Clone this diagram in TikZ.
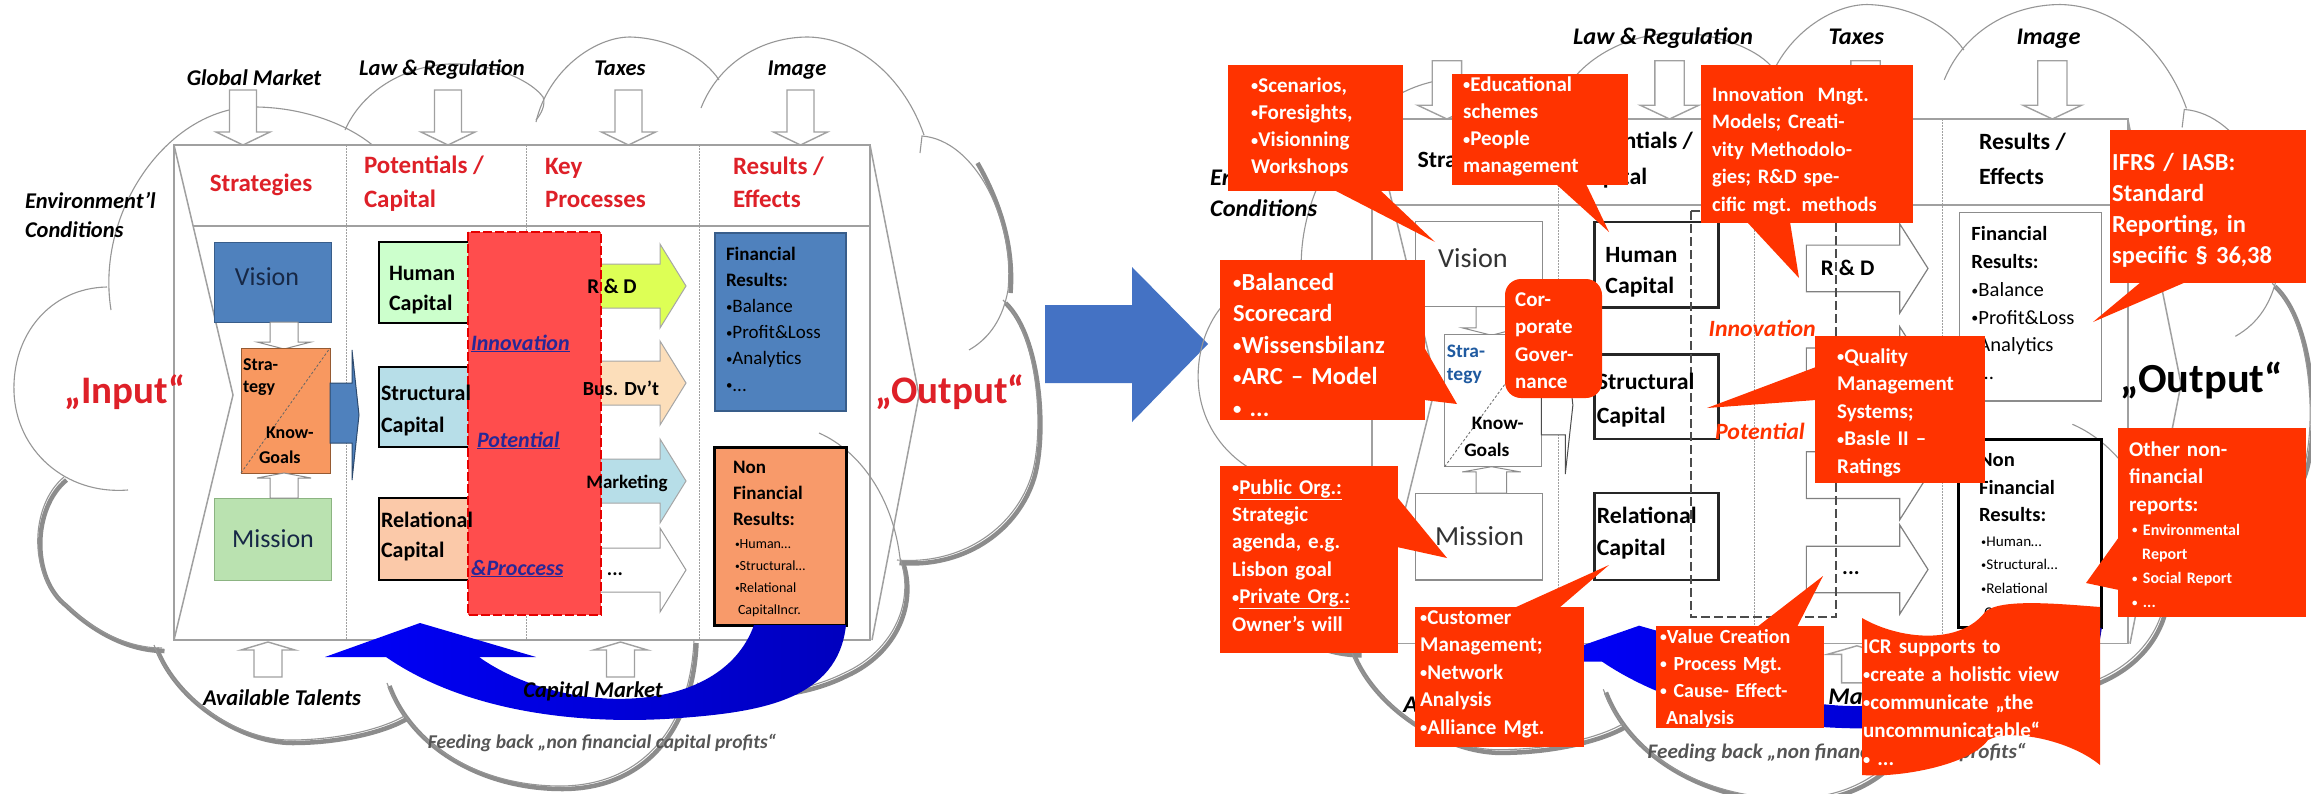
\documentclass[tikz,border=0pt]{standalone}
\usepackage{fontspec}
\usepackage{graphicx}
\setmainfont{Carlito}
\definecolor{cloudgray}{RGB}{150,150,150}
\definecolor{shadowgray}{RGB}{140,140,140}
\definecolor{envgray}{RGB}{160,160,160}
\definecolor{hdrred}{RGB}{222,32,40}
\definecolor{visblue}{RGB}{79,129,189}
\definecolor{visblueD}{RGB}{56,93,138}
\definecolor{vistxt}{RGB}{23,40,70}
\definecolor{stratorange}{RGB}{248,152,96}
\definecolor{stratD}{RGB}{150,90,50}
\definecolor{misgreen}{RGB}{186,226,176}
\definecolor{misD}{RGB}{140,180,130}
\definecolor{humgreen}{RGB}{204,255,204}
\definecolor{structblue}{RGB}{183,222,232}
\definecolor{relpeach}{RGB}{251,201,169}
\definecolor{rdyellow}{RGB}{221,255,85}
\definecolor{buspeach}{RGB}{252,222,186}
\definecolor{redfill}{RGB}{255,77,77}
\definecolor{redD}{RGB}{230,0,0}
\definecolor{innoblue}{RGB}{40,40,150}
\definecolor{nonfinorange}{RGB}{248,154,106}
\definecolor{fbblue}{RGB}{0,0,250}
\definecolor{fbblueD}{RGB}{0,0,190}
\definecolor{bigblue}{RGB}{68,114,196}
\definecolor{callred}{RGB}{255,51,0}
\definecolor{stratblue}{RGB}{31,90,160}
\definecolor{feedgray}{RGB}{85,85,85}
\newcommand\myfs[2]{\fontsize{#1}{#2}\selectfont}
\newcommand\bul{\raisebox{0.07em}{\scalebox{0.68}{•}}}
\newif\ifleftpanel \leftpaneltrue
\newcommand\innofmt[1]{\underline{#1}}
\tikzset{
  tx/.style={inner sep=0pt, outer sep=0pt},
  pcloud/.style={draw=cloudgray, line width=1.1pt},
  pshadow/.style={draw=shadowgray, line width=4.5pt},
  penv/.style={fill=white, draw=envgray, line width=1.4pt},
  ptable/.style={draw=envgray, line width=1.5pt},
  pdiv/.style={draw=envgray, line width=1pt, dash pattern=on 1.5pt off 1.5pt},
  pdiag/.style={draw=black!60, line width=0.8pt, dash pattern=on 2.5pt off 2pt},
  phdr/.style={text=hdrred, font=\myfs{25}{30}\bfseries},
  pvis/.style={fill=visblue, draw=visblueD, line width=1pt},
  pvistxt/.style={text=vistxt, font=\myfs{26}{30}},
  pstrat/.style={fill=stratorange, draw=stratD, line width=1pt},
  pstrattxt/.style={text=black},
  pmis/.style={fill=misgreen, draw=misD, line width=1pt},
  pvsarr/.style={fill=white, draw=black!45, line width=1pt},
  pblarr/.style={fill=visblue, draw=visblueD!80!black, line width=1pt},
  phum/.style={fill=humgreen, draw=black, line width=2pt},
  pstruct/.style={fill=structblue, draw=black, line width=2pt},
  prel/.style={fill=relpeach, draw=black, line width=2pt},
  prd/.style={fill=rdyellow, draw=black!35, line width=1pt},
  pbus/.style={fill=buspeach, draw=black!35, line width=1pt},
  pmkt/.style={fill=structblue, draw=black!35, line width=1pt},
  pdots/.style={fill=white, draw=black!40, line width=1pt},
  pred/.style={fill=redfill, draw=redD, line width=2pt, dash pattern=on 9pt off 3pt},
  pinno/.style={text=innoblue, font=\myfs{22}{26}\bfseries\itshape},
  pfin/.style={fill=visblue, draw=visblueD, line width=1.2pt},
  pnonfin/.style={fill=nonfinorange, draw=black, line width=3pt},
  pio/.style={text=hdrred, font=\myfs{39}{44}\bfseries},
  pfeed/.style={left color=fbblue, right color=fbblueD},
  penvtxt/.style={text=black, font=\myfs{22.5}{26}\bfseries\itshape},
  pfeedtxt/.style={text=feedgray, font=\myfs{19.5}{22}\bfseries\itshape},
  pcap/.style={text=black, font=\myfs{22}{26}\bfseries},
  cbox/.style={fill=callred},
  ctext/.style={inner sep=0pt, text=white, anchor=base west, align=left, text width=#1},
  ctext/.default=170pt,
}
\newcommand\DownArr[2]{\draw[penv,shift={(#1,#2)}] (-13.5,0) -- (13.5,0) -- (13.5,42) -- (27,42) -- (0,55) -- (-27,42) -- (-13.5,42) -- cycle;}
\newcommand\UpArr[2]{\draw[penv,shift={(#1,#2)}] (-14,0) -- (14,0) -- (14,-27) -- (27,-27) -- (0,-35) -- (-27,-27) -- (-14,-27) -- cycle;}
\newcommand\ProcArr[3]{\draw[#1,shift={(#2,#3)}] (0,-22) -- (86,-22) -- (86,-42) -- (112,0) -- (86,42) -- (86,22) -- (0,22) -- cycle;}
\newcommand\panelbody{%
  % cloud shadows
  \begin{scope}[shift={(2.5,3)}]
    \draw[pshadow] (64,477) .. controls (30,505) and (28,575) .. (64,603) .. controls (90,628) and (125,648) .. (162,648);
    \draw[pshadow] (154,645) .. controls (175,700) and (240,740) .. (290,740) .. controls (340,740) and (385,728) .. (406,715);
    \draw[pshadow] (387,683) .. controls (410,745) and (480,786) .. (560,786) .. controls (640,786) and (690,730) .. (694,640);
    \draw[pshadow] (900,558) .. controls (915,600) and (895,650) .. (844,673) .. controls (800,695) and (740,700) .. (697,683);
    \draw[pshadow] (1003,300) .. controls (1040,335) and (1045,440) .. (1030,480) .. controls (1012,530) and (960,565) .. (897,560);
    \draw[pshadow] (975,160) .. controls (995,195) and (1012,240) .. (1008,290);
  \end{scope}
  % cloud lobes
  \draw[pcloud] (107,287) .. controls (50,288) and (12,335) .. (14,392) .. controls (16,450) and (65,495) .. (128,490);
  \draw[pcloud] (64,477) .. controls (30,505) and (28,575) .. (64,603) .. controls (90,628) and (125,648) .. (162,648);
  \draw[pcloud] (111,310) .. controls (95,210) and (170,105) .. (257,107) .. controls (310,108) and (355,128) .. (378,150);
  \draw[pcloud] (345,130) .. controls (365,85) and (415,62) .. (460,64) .. controls (500,66) and (532,82) .. (543,97) .. controls (546,105) and (541,114) .. (536,120);
  \draw[pcloud] (536,122) .. controls (548,70) and (595,37) .. (630,37) .. controls (670,38) and (705,58) .. (719,80);
  \draw[pcloud] (701,108) .. controls (720,60) and (765,37) .. (808,37) .. controls (860,38) and (905,80) .. (924,135);
  \draw[pcloud] (920,153) -- (922,136) .. controls (975,140) and (1015,220) .. (1008,290) .. controls (1003,318) and (990,338) .. (969,350);
  \draw[pcloud] (1003,300) .. controls (1040,335) and (1045,440) .. (1030,480) .. controls (1012,530) and (960,565) .. (897,560);
  \draw[pcloud] (900,558) .. controls (915,600) and (895,650) .. (844,673) .. controls (800,695) and (740,700) .. (697,683);
  \draw[pcloud] (387,683) .. controls (410,745) and (480,786) .. (560,786) .. controls (640,786) and (690,730) .. (694,640);
  \draw[pcloud] (154,645) .. controls (175,700) and (240,740) .. (290,740) .. controls (340,740) and (385,728) .. (406,715);
  % environment arrows
  \DownArr{243}{90}\DownArr{448}{90}\DownArr{628.5}{90}\DownArr{800.5}{90}
  % table
  \fill[white] (174,145) rectangle (870,640);
  \draw[ptable] (174,145) rectangle (870,640);
  \draw[ptable] (193,226) -- (870,226);
  \draw[ptable] (174,145) -- (233,395) -- (174,640);
  \draw[ptable] (870,145) -- (919,395) -- (872,640);
  \draw[pdiv] (346,145) -- (346,640);
  \draw[pdiv] (526,145) -- (526,640);
  \draw[pdiv] (699,145) -- (699,640);
  \draw[pcloud] (819,433) .. controls (862,452) and (893,500) .. (900,558);
  \UpArr{268}{677}\UpArr{620.5}{677}
  % headers
  \node[tx, phdr, anchor=base] (hS) at (261,191) {Strategies};
  \node[tx, phdr, anchor=base west] (hP1) at (364,173) {Potentials /};
  \node[tx, phdr, anchor=base west] (hP2) at (364,207) {Capital};
  \ifleftpanel
  \node[tx, phdr, anchor=base west] (hK1) at (545,174) {Key};
  \node[tx, phdr, anchor=base west] (hK2) at (545,207) {Processes};
  \fi
  \node[tx, phdr, anchor=base west] (hR1) at (733,174) {Results /};
  \node[tx, phdr, anchor=base west] (hR2) at (733,207) {Effects};
  % strategy column
  \draw[pvis] (214,242) rectangle (331,322);
  \draw[pvsarr] (270,322) -- (298,322) -- (298,342) -- (311,342) -- (284,349) -- (257,342) -- (270,342) -- cycle;
  \draw[pstrat] (241,348) rectangle (330,473);
  \draw[pdiag] (241,473) -- (330,348);
  \draw[pmis] (214,498) rectangle (331,580);
  \draw[pvsarr] (270,498) -- (298,498) -- (298,478) -- (311,478) -- (284,473) -- (257,478) -- (270,478) -- cycle;
  \draw[pblarr] (330,383) -- (352,383) -- (352,350) -- (359,415) -- (352,480) -- (352,443) -- (330,443) -- cycle;
  \node[tx, pvistxt, anchor=base] (vision) at (267,285) {Vision};
  \node[tx, pvistxt, anchor=base] (mission) at (273,547) {Mission};
  \node[tx, pstrattxt, font=\myfs{18}{20}\bfseries, anchor=base west] (st1) at (243,370) {Stra-};
  \node[tx, pstrattxt, font=\myfs{18}{20}\bfseries, anchor=base west] (st2) at (243,392) {tegy};
  \node[tx, font=\myfs{18}{20}\bfseries, anchor=base west] (kg1) at (266,438) {Know-};
  \node[tx, font=\myfs{18}{20}\bfseries, anchor=base west] (kg2) at (259,463) {Goals};
  % capital boxes
  \draw[phum] (379,242) rectangle (493,323);
  \draw[pstruct] (379,367) rectangle (493,447);
  \draw[prel] (379,498) rectangle (493,580);
  % process arrows
  \ProcArr{prd}{574}{286}
  \ProcArr{pbus}{574}{383}
  \ProcArr{pmkt}{574}{481}
  \ProcArr{pdots}{574}{570}
  % innovation box
  \draw[pred] (468,232) rectangle (601,615);
  \node[tx, pcap, anchor=base west] (hc1) at (389,280) {Human};
  \node[tx, pcap, anchor=base west] (hc2) at (389,310) {Capital};
  \node[tx, pcap, anchor=base west] (sc1) at (381,400) {Structural};
  \node[tx, pcap, anchor=base west] (sc2) at (381,432) {Capital};
  \node[tx, pcap, anchor=base west] (rc1) at (381,527) {Relational};
  \node[tx, pcap, anchor=base west] (rc2) at (381,557) {Capital};
  \node[tx, pinno, anchor=base west] (inno) at (471,350) {\innofmt{Innovation}};
  \node[tx, pinno, anchor=base west] (pot) at (477,447) {\innofmt{Potential}};
  \ifleftpanel\node[tx, pinno, anchor=base west] (proc) at (471,575) {\innofmt{\&Proccess}};\fi
  \node[tx, font=\myfs{21}{25}\bfseries, anchor=base] (rd) at (612,293) {R \& D};
  \ifleftpanel
  \node[tx, font=\myfs{20}{24}\bfseries, anchor=base] (bus) at (621,395) {Bus. Dv’t};
  \node[tx, font=\myfs{19}{22}\bfseries, anchor=base] (mkt) at (627,488) {Marketing};
  \fi
  \node[tx, font=\myfs{20}{24}\bfseries, anchor=base] (dots) at (615,575) {...};
  % results
  \draw[pfin] (715,233) rectangle (846,411);
  \node[tx, anchor=base west, text width=118pt, align=left, font=\myfs{19}{26.2}] (fin) at (726,260) {\textbf{Financial}\\\textbf{Results:}\\\bul Balance\\\bul Profit\&Loss\\\bul Analytics\\\bul ...};
  \draw[pnonfin] (714,447) rectangle (846,625);
  \node[tx, anchor=base west, text width=108pt, align=left, font=\myfs{19}{26}\bfseries] (nf1) at (733,473) {Non\\Financial\\Results:};
  \node[tx, anchor=base west, text width=106pt, align=left, font=\myfs{14}{22.3}] (nf2) at (735,548) {\bul Human…\\\bul Structural…\\\bul Relational\\\hspace*{3pt}CapitalIncr.};
  % feedback arrow
  \path[pfeed] (420,623) -- (536,657) -- (479,657) .. controls (560,715) and (720,720) .. (754,625) -- (846,625) .. controls (838,700) and (760,712) .. (680,718) .. controls (590,725) and (470,715) .. (386,657) -- (325,657) -- cycle;
  % outer labels
  \ifleftpanel\node[tx, penvtxt, anchor=base] (gm) at (254,85) {Global Market};\fi
  \node[tx, penvtxt, anchor=base] (law) at (442,75) {Law \& Regulation};
  \node[tx, penvtxt, anchor=base] (tax) at (620,75) {Taxes};
  \node[tx, penvtxt, anchor=base] (img) at (797,75) {Image};
  \node[tx, penvtxt, anchor=base west] (env1) at (25,208) {Environment’l};
  \node[tx, penvtxt, anchor=base west] (env2) at (25,237) {Conditions};
  \node[tx, penvtxt, anchor=base] (tal) at (282,705) {Available Talents};
  \node[tx, penvtxt, anchor=base] (cap) at (593,697) {Capital Market};
  \node[tx, pfeedtxt, anchor=base] (feed) at (602,748) {Feeding back „non financial capital profits“};
  \ifleftpanel\node[tx, pio, anchor=base] (in) at (125,403) {„Input“};\fi
  \node[tx, pio, anchor=base] (out) at (950,403) {„Output“};
}
\begin{document}
\begin{tikzpicture}[x=1pt,y=-1pt]
\fill[white] (0,0) rectangle (2311,793);
\useasboundingbox (0,0) rectangle (2311,793);
\begin{scope}[name prefix=L-]
\panelbody
\end{scope}
\fill[bigblue] (1045,305) -- (1132,305) -- (1132,267) -- (1208,344) -- (1132,422) -- (1132,383) -- (1045,383) -- cycle;
\begin{scope}[name prefix=R-, shift={(1183pt,34.7pt)}, xscale=1.086, yscale=1.06, transform shape,
  phdr/.style={text=black, font=\myfs{22}{26}\bfseries},
  pvis/.style={fill=white, draw=black!45, line width=1.3pt},
  pvistxt/.style={text=black!80, font=\myfs{26}{30}},
  pstrat/.style={fill=white, draw=black!45, line width=1.3pt},
  pstrattxt/.style={text=stratblue},
  pmis/.style={fill=white, draw=black!45, line width=1.3pt},
  pblarr/.style={fill=white, draw=black!70, line width=1pt},
  phum/.style={fill=white, draw=black!85, line width=2.5pt},
  pstruct/.style={fill=white, draw=black!85, line width=2.5pt},
  prel/.style={fill=white, draw=black!85, line width=2.5pt},
  prd/.style={fill=white, draw=black!50, line width=1.2pt},
  pbus/.style={fill=white, draw=black!50, line width=1.2pt},
  pmkt/.style={fill=white, draw=black!50, line width=1.2pt},
  pdots/.style={fill=white, draw=black!50, line width=1.2pt},
  pred/.style={draw=black!70, line width=1.8pt, dash pattern=on 9pt off 4pt},
  pinno/.style={text=callred, font=\myfs{22}{26}\bfseries\itshape, xshift=13pt},
  pfin/.style={fill=white, draw=black!45, line width=1.3pt},
  pnonfin/.style={fill=white, draw=black, line width=3pt},
  pio/.style={text=black, font=\myfs{39}{44}\bfseries, xshift=-12pt}]
\leftpanelfalse\renewcommand\innofmt[1]{#1}
\panelbody
\end{scope}
% callouts
\fill[cbox] (1228,65) rectangle (1403,191);
\fill[cbox] (1334,190) -- (1435,242) -- (1380,190) -- cycle;
\node[ctext=150pt, font=\myfs{21}{27.3}\bfseries] (c1) at (1251,92) {\bul Scenarios,\\\bul Foresights,\\\bul Visionning\\Workshops};
\fill[cbox] (1452,74) rectangle (1628,185);
\fill[cbox] (1556,184) -- (1609,232) -- (1586,184) -- cycle;
\node[ctext=160pt, font=\myfs{21}{27.3}\bfseries] (c2) at (1463,91) {\bul Educational\\schemes\\\bul People\\management};
\fill[cbox] (1701,65) rectangle (1913,223);
\fill[cbox] (1747,222) -- (1799,278) -- (1790,222) -- cycle;
\node[ctext=198pt, font=\myfs{20.5}{27.6}\bfseries] (c3) at (1712,101) {Innovation\ \ Mngt.\\Models; Creati-\\vity Methodolo-\\gies; R\&D spe-\\cific mgt. methods};
\fill[cbox] (2110,130) rectangle (2306,283);
\fill[cbox] (2141,282) -- (2093,322) -- (2186,282) -- cycle;
\node[ctext=190pt, font=\myfs{24.5}{31.3}\bfseries] (c4) at (2112,170) {IFRS / IASB:\\Standard\\Reporting, in\\specific § 36,38};
\fill[cbox] (1220,260) rectangle (1425,420);
\fill[cbox] (1424,347) -- (1457,404) -- (1424,400) -- cycle;
\node[ctext=188pt, font=\myfs{24.5}{31.6}\bfseries] (c5) at (1233,290) {\bul Balanced\\Scorecard\\\bul Wissensbilanz\\\bul ARC – Model\\\bul\ ...};
\fill[cbox, rounded corners=16pt] (1505,279) rectangle (1602,398);
\node[ctext=84pt, font=\myfs{21}{27.6}\bfseries] (c6) at (1515,306) {Cor-\\porate\\Gover-\\nance};
\fill[cbox] (1815,336) rectangle (1985,483);
\fill[cbox] (1816,367) -- (1707,408) -- (1816,400) -- cycle;
\node[ctext=145pt, font=\myfs{21}{27.5}\bfseries] (c7) at (1837,363) {\bul Quality\\Management\\Systems;\\\bul Basle II –\\Ratings};
\fill[cbox] (1220,466) rectangle (1398,653);
\fill[cbox] (1397,497) -- (1447,558) -- (1397,547) -- cycle;
\node[ctext=160pt, font=\myfs{21}{27.4}\bfseries] (c8) at (1232,494) {\bul\underline{Public Org.:}\\Strategic\\agenda, e.g.\\Lisbon goal\\\bul\underline{Private Org.:}\\Owner’s will};
\fill[cbox] (1415,607) rectangle (1584,747);
\fill[cbox] (1514,608) -- (1609,565) -- (1559,608) -- cycle;
\node[ctext=160pt, font=\myfs{21}{27.5}\bfseries] (c9) at (1420,624) {\bul Customer\\Management;\\\bul Network\\Analysis\\\bul Alliance Mgt.};
\fill[cbox] (1656,626) rectangle (1824,728);
\fill[cbox] (1757,627) -- (1823,576) -- (1797,627) -- cycle;
\node[ctext=160pt, font=\myfs{20}{27}\bfseries] (c10) at (1660,643) {\bul Value Creation\\\bul\ Process Mgt.\\\bul\ Cause- Effect-\\\hspace*{6pt}Analysis};
\fill[cbox] (1862,618) .. controls (1900,640) and (1960,645) .. (1985,612) .. controls (2000,598) and (2060,604) .. (2100,607) -- (2100,765) .. controls (2070,740) and (2010,728) .. (1988,740) .. controls (1970,765) and (1900,778) .. (1862,775) -- cycle;
\node[ctext=232pt, font=\myfs{21}{28.2}\bfseries] (c11) at (1863,653) {ICR supports to\\\bul create a holistic view\\\bul communicate „the\\uncommunicatable“\\\bul\ ...};
\fill[cbox] (2118,428) rectangle (2306,617);
\fill[cbox] (2119,537) -- (2086,583) -- (2119,590) -- cycle;
\node[ctext=175pt, font=\myfs{21}{27.5}\bfseries] (c12a) at (2129,456) {Other non-\\financial\\reports:};
\node[ctext=170pt, font=\myfs{16}{24.2}\bfseries] (c12b) at (2132,535) {\bul\ Environmental\\\hspace*{10pt}Report\\\bul\ Social Report\\\bul\ ...};
\end{tikzpicture}
\end{document}
